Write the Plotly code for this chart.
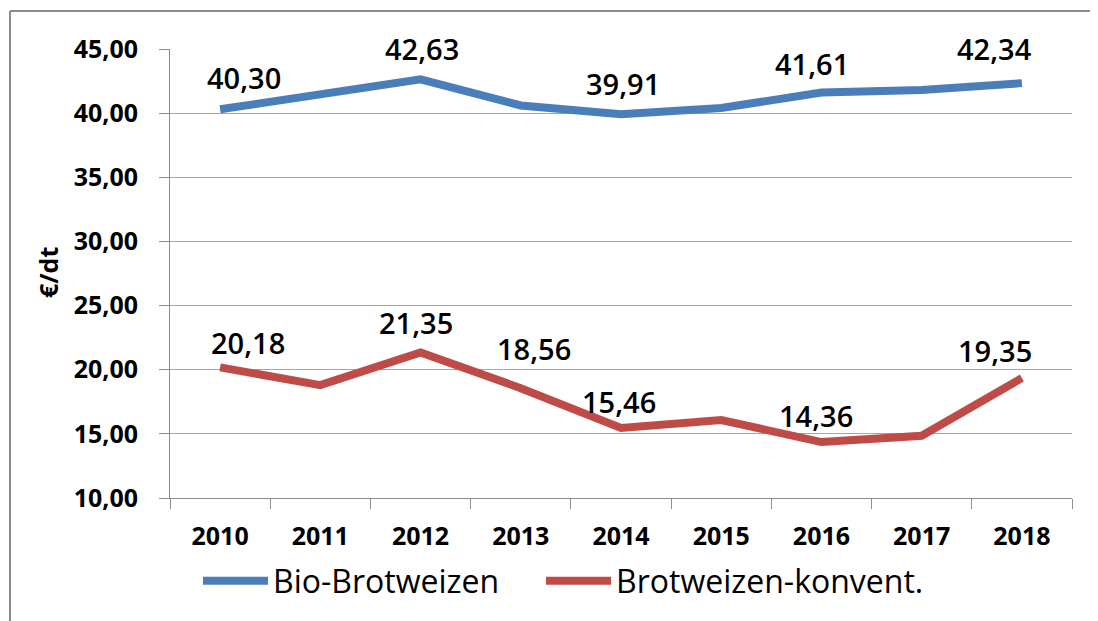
import plotly.graph_objects as go

years = ["2010", "2011", "2012", "2013", "2014", "2015", "2016", "2017", "2018"]
bio = [40.30, 41.48, 42.63, 40.60, 39.91, 40.40, 41.61, 41.80, 42.34]
konv = [20.18, 18.80, 21.35, 18.56, 15.46, 16.08, 14.36, 14.85, 19.35]
bio_name = "Bio-Brotweizen"
konv_name = "Brotweizen-konvent."
y_title = "€/dt"

# which points carry a value label, and label offsets (px) as in the reference
bio_labeled = {0: (24, 32), 2: (1, 31), 4: (2, 31), 6: (-9, 29), 8: (-27, 35)}
konv_labeled = {0: (28, 25), 2: (-5, 30), 3: (13, 40), 4: (-2, 26), 6: (-5, 27), 8: (-27, 28)}

BLUE = "#4a7ebb"
RED = "#be4b48"
FONT = "Open Sans"

# page body has an 8px margin; plot area should sit at x 170..1072, y 49..498 on the page
OFF = 8
PL, PR, PT, PB = 170, 1072, 49, 498
W, H = 1098 - OFF, 621 - OFF
PW, PH = PR - PL, PB - PT

def px(xp):
    return (xp - PL) / PW

def py(yp):
    return (PB - yp) / PH

fig = go.Figure()
fig.add_trace(go.Scatter(x=years, y=bio, mode="lines", name=bio_name,
                         line=dict(color=BLUE, width=8), legend="legend"))
fig.add_trace(go.Scatter(x=years, y=konv, mode="lines", name=konv_name,
                         line=dict(color=RED, width=8), legend="legend2"))

def fmt(v):
    return f"{v:.2f}".replace(".", ",")

for series, labeled in ((bio, bio_labeled), (konv, konv_labeled)):
    for i, (dx, dy) in labeled.items():
        fig.add_annotation(x=i, y=series[i], text=fmt(series[i]),
                           showarrow=False, xshift=dx, yshift=dy,
                           xanchor="center", yanchor="middle",
                           font=dict(family=FONT, size=29, color="#000000",
                                     weight=600))

fig.add_annotation(xref="paper", yref="paper", x=px(48), y=py(273),
                   xanchor="center", yanchor="middle",
                   text=f"<b>{y_title}</b>", textangle=-90, showarrow=False,
                   font=dict(family=FONT, size=25, color="#000000"))

# outer frame (left and top edges visible in the reference)
fig.add_shape(type="line", xref="paper", yref="paper",
              x0=px(10), x1=px(1110), y0=py(11), y1=py(11),
              line=dict(color="#8c8c8c", width=2))
fig.add_shape(type="line", xref="paper", yref="paper",
              x0=px(10), x1=px(10), y0=py(11), y1=py(640),
              line=dict(color="#8c8c8c", width=2))

leg_common = dict(orientation="h", xanchor="left", yanchor="middle",
                  y=py(581), itemwidth=65, bgcolor="rgba(0,0,0,0)",
                  font=dict(family=FONT, size=32, color="#000000"))

fig.update_layout(
    width=W, height=H,
    margin=dict(l=PL - OFF, r=W + OFF - PR, t=PT - OFF, b=H + OFF - PB),
    paper_bgcolor="white", plot_bgcolor="white",
    font=dict(family=FONT, color="#000000"),
    showlegend=True,
    legend=dict(x=px(198), **leg_common),
    legend2=dict(x=px(541), **leg_common),
    xaxis=dict(type="category", range=[-0.5, 8.5], tickson="boundaries",
               ticks="outside", ticklen=10, tickcolor="#8c8c8c",
               showline=True, linecolor="#8c8c8c", linewidth=1,
               showgrid=False, ticklabelstandoff=16,
               tickfont=dict(family=FONT, size=25, color="#000000", weight="bold")),
    yaxis=dict(range=[10, 45], dtick=5, tick0=10, ticks="outside", ticklen=10,
               tickcolor="#8c8c8c", showline=True, linecolor="#8c8c8c",
               linewidth=1, showgrid=True, gridcolor="#a6a6a6", gridwidth=1,
               tickformat=".2f", zeroline=False,
               ticklabelstandoff=16,
               tickfont=dict(family=FONT, size=25, color="#000000", weight="bold")),
    separators=",.",
)

fig.write_html("out.html")
